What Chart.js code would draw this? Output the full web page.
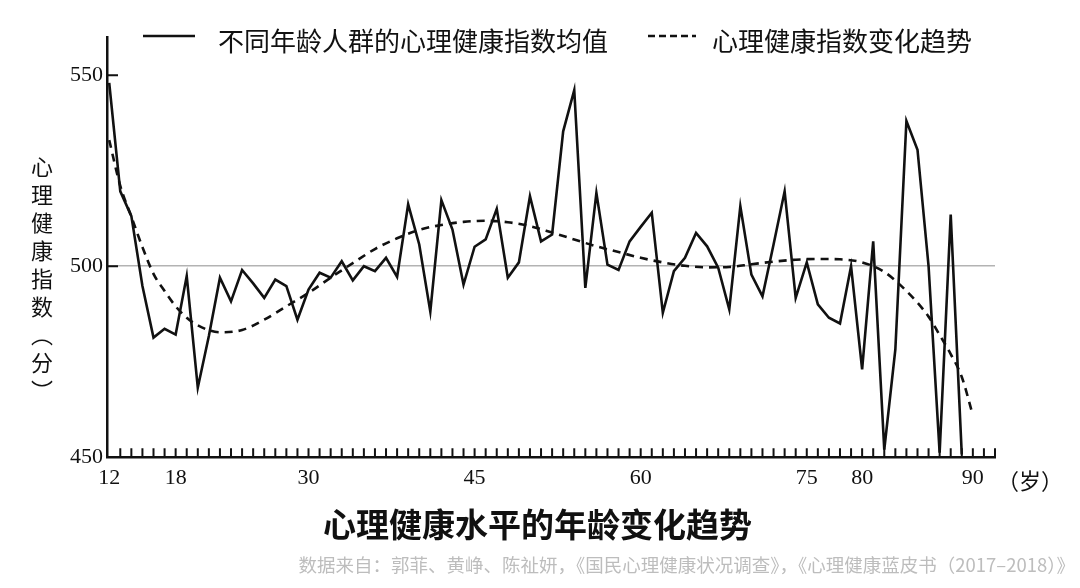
<!DOCTYPE html>
<html lang="zh">
<head>
    <meta charset="UTF-8">
    <title>心理健康水平的年龄变化趋势</title>
    <script src="https://cdn.jsdelivr.net/npm/chart.js"></script>
    <style>
        html, body { margin: 0; padding: 0; background: #fff; }
        .wrap { position: relative; width: 1080px; height: 588px; }
        .wrap canvas { position: absolute; left: 0; top: 0; }
        .cjk { position: absolute; font-family: "Noto Sans CJK SC", sans-serif; color: #111; white-space: nowrap; }
        .legend-text { font-size: 26px; line-height: 28px; top: 26px; }
        .legend-line { position: absolute; top: 30px; }
        .y-title { left: 31px; top: 156px; font-size: 22px; writing-mode: vertical-rl; letter-spacing: 6px; line-height: 22px; }
        .x-unit { left: 997px; top: 466px; font-size: 22px; line-height: 26px; }
    </style>
</head>
<body>
    <div class="wrap">
        <canvas id="ageChart"></canvas>

        <!-- 图例 -->
        <svg class="legend-line" style="left:143px" width="52" height="12"><line x1="0" y1="6" x2="52" y2="6" stroke="#111" stroke-width="2.5"/></svg>
        <div class="cjk legend-text" style="left:218px">不同年龄人群的心理健康指数均值</div>
        <svg class="legend-line" style="left:648px" width="48" height="12"><line x1="0" y1="6" x2="48" y2="6" stroke="#111" stroke-width="2.5" stroke-dasharray="7 4"/></svg>
        <div class="cjk legend-text" style="left:712px">心理健康指数变化趋势</div>

        <div class="cjk y-title">心理健康指数（分）</div>
        <div class="cjk x-unit">（岁）</div>
    </div>

    <script>
        // 各年龄的心理健康指数均值
        const ages = [12, 13, 14, 15, 16, 17, 18, 19, 20, 21, 22, 23, 24, 25, 26, 27, 28, 29, 30,
            31, 32, 33, 34, 35, 36, 37, 38, 39, 40, 41, 42, 43, 44, 45, 46, 47, 48, 49, 50,
            51, 52, 53, 54, 55, 56, 57, 58, 59, 60, 61, 62, 63, 64, 65, 66, 67, 68, 69, 70,
            71, 72, 73, 74, 75, 76, 77, 78, 79, 80, 81, 82, 83, 84, 85, 86, 87, 88, 89];
        const meanScores = [548.0, 519.6, 513.1, 494.8, 481.3, 483.6, 482.1, 497.4, 468.2, 481.7,
            497.0, 490.8, 499.0, 495.5, 491.7, 496.5, 494.8, 486.0, 493.9, 498.3,
            497.0, 501.3, 496.3, 500.0, 498.7, 502.2, 497.2, 516.2, 505.7, 488.1,
            517.3, 509.6, 495.2, 505.1, 507.0, 515.0, 497.0, 501.0, 518.3, 506.5,
            508.3, 535.3, 546.1, 494.3, 519.2, 500.4, 499.0, 506.5, 510.3, 514.0,
            487.8, 498.7, 502.2, 508.7, 505.2, 499.6, 488.7, 515.7, 497.8, 492.1,
            505.7, 519.6, 491.7, 501.0, 490.0, 486.5, 485.0, 500.0, 473.0, 506.5,
            452.0, 478.2, 538.0, 530.5, 500.0, 451.2, 513.5, 450.7];

        // 变化趋势（拟合曲线）
        const trendAges = [12, 13, 14, 15, 16, 17, 18, 19, 20, 22, 24, 26, 28, 30, 32, 34, 36, 38, 40,
            42, 44, 46, 48, 50, 52, 54, 56, 58, 60, 62, 64, 66, 68, 70, 72, 74, 76, 78, 80,
            82, 84, 86, 87, 88, 89, 90];
        const trendScores = [533, 521, 513, 505, 498, 493.5, 489.5, 486.5, 484.5, 482.7, 483.3, 486,
            489.5, 493, 497, 500.8, 504.5, 507.3, 509.5, 510.8, 511.6, 511.9, 511.5, 510.5,
            508.8, 507, 505.2, 503.7, 502.2, 501, 500.1, 499.7, 499.8, 500.5, 501.2, 501.7,
            501.9, 501.8, 501, 498.5, 493.5, 486.8, 482, 477, 471, 461];

        const xTickLabels = [12, 18, 30, 45, 60, 75, 80, 90];
        const yTickValues = [450, 500, 550];

        // 坐标轴上的小刻度（向内）
        const tickMarks = {
            id: 'tickMarks',
            afterDatasetsDraw(chart) {
                const { ctx, chartArea, scales: { x, y } } = chart;
                ctx.save();
                ctx.strokeStyle = '#111';
                ctx.lineWidth = 2;
                ctx.beginPath();
                for (let a = 13; a <= 92; a++) {
                    const px = x.getPixelForValue(a);
                    ctx.moveTo(px, chartArea.bottom);
                    ctx.lineTo(px, chartArea.bottom - 9);
                }
                [500, 550].forEach(v => {
                    const py = y.getPixelForValue(v);
                    ctx.moveTo(chartArea.left, py);
                    ctx.lineTo(chartArea.left + 11, py);
                });
                ctx.stroke();
                ctx.restore();
            }
        };

        const serif = { family: '"Liberation Serif", "DejaVu Serif", serif', size: 22 };

        new Chart(document.getElementById('ageChart'), {
            type: 'line',
            data: {
                datasets: [{
                    label: '不同年龄人群的心理健康指数均值',
                    data: ages.map((a, i) => ({ x: a, y: meanScores[i] })),
                    borderColor: '#111',
                    borderWidth: 2.6,
                    pointRadius: 0,
                    tension: 0
                }, {
                    label: '心理健康指数变化趋势',
                    data: trendAges.map((a, i) => ({ x: a, y: trendScores[i] })),
                    borderColor: '#111',
                    borderWidth: 2.6,
                    borderDash: [8, 6],
                    pointRadius: 0,
                    cubicInterpolationMode: 'monotone'
                }]
            },
            options: {
                responsive: true,
                maintainAspectRatio: false,
                animation: false,
                layout: { padding: { top: 37, right: 5, left: 0, bottom: 0 } },
                scales: {
                    x: {
                        type: 'linear',
                        min: 11.8,
                        max: 92,
                        afterBuildTicks: s => { s.ticks = xTickLabels.map(v => ({ value: v })); },
                        afterFit: s => { s.height = 45; },
                        grid: { display: false, drawTicks: false },
                        border: { color: '#111', width: 2.5 },
                        ticks: { autoSkip: false, maxRotation: 0, padding: 8, color: '#111', font: serif }
                    },
                    y: {
                        min: 450,
                        max: 560,
                        afterBuildTicks: s => { s.ticks = yTickValues.map(v => ({ value: v })); },
                        afterFit: s => { s.width = 107; },
                        grid: {
                            drawTicks: false,
                            lineWidth: 1.5,
                            color: c => (c.tick && c.tick.value === 500) ? '#b3b3b3' : 'transparent'
                        },
                        border: { color: '#111', width: 2.5 },
                        ticks: { padding: 4, color: '#111', font: serif }
                    },
                    // 右侧留白，使标题按整幅图居中
                    pad: {
                        position: 'right',
                        display: true,
                        grid: { display: false, drawTicks: false },
                        border: { display: false },
                        ticks: { display: false },
                        afterFit: s => { s.width = 80; }
                    }
                },
                plugins: {
                    legend: { display: false },
                    tooltip: { enabled: false },
                    title: {
                        display: true,
                        position: 'bottom',
                        weight: 1000,
                        text: '心理健康水平的年龄变化趋势',
                        color: '#111',
                        font: { family: '"Noto Sans CJK SC", sans-serif', size: 33, weight: 'bold' },
                        padding: { top: 2, bottom: 0 }
                    },
                    subtitle: {
                        display: true,
                        position: 'bottom',
                        weight: 2000,
                        align: 'end',
                        text: '数据来自：郭菲、黄峥、陈祉妍，《国民心理健康状况调查》，《心理健康蓝皮书（2017–2018）》',
                        color: '#bdbdbd',
                        font: { family: '"Noto Sans CJK SC", sans-serif', size: 18.5 },
                        padding: { top: 10, bottom: 12 }
                    }
                }
            },
            plugins: [tickMarks]
        });
    </script>
</body>
</html>
